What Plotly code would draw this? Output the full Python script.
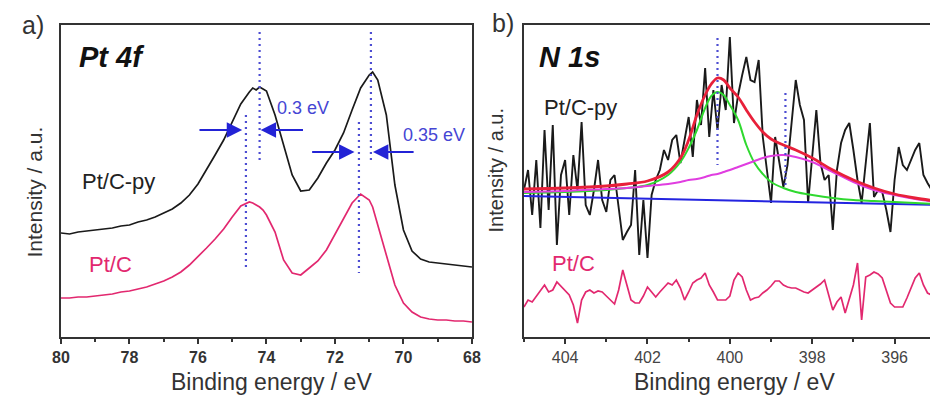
import plotly.graph_objects as go

# ---------------- Pt 4f region ----------------
pt_energy = [80.0, 79.75, 79.5, 79.25, 79.0, 78.75, 78.5, 78.25, 78.0, 77.75,
             77.5, 77.25, 77.0, 76.75, 76.5, 76.25, 76.0, 75.75, 75.5, 75.25,
             75.0, 74.75, 74.5, 74.4, 74.3, 74.2, 74.1, 74.0, 73.75, 73.5,
             73.25, 73.0, 72.75, 72.5, 72.25, 72.0, 71.75, 71.5, 71.25, 71.0,
             70.9, 70.75, 70.5, 70.25, 70.0, 69.75, 69.5, 69.25, 69.0, 68.75,
             68.5, 68.25, 68.0]
pt_cpy = [104, 103, 105, 106, 107, 108, 109, 111, 112, 115,
          117, 120, 124, 128, 134, 142, 153, 167, 182, 197,
          215, 233, 245, 249, 247, 250, 248, 246, 222, 192,
          162, 146, 147, 159, 174, 187, 204, 227, 249, 262,
          265, 257, 222, 152, 107, 86, 78, 75, 74, 73,
          72, 71, 70]
pt_c = [39, 39, 40, 40, 41, 42, 43, 45, 46, 48,
        50, 53, 56, 60, 65, 72, 80, 89, 98, 108,
        120, 131, 135, 134, 132, 130, 127, 122, 105, 77,
        64, 62, 69, 76, 87, 103, 119, 134, 143, 137,
        130, 112, 82, 52, 34, 25, 20, 18, 17, 17,
        16, 16, 15]

pt_ticks = [80, 78, 76, 74, 72, 70, 68]

# peak positions (eV) and the intensity span of each marker line
pt_peak_cpy = [74.2, 70.95]
pt_peak_cpy_span = [[305, 176], [305, 174]]
pt_peak_c = [74.6, 71.3]
pt_peak_c_span = [[222, 70], [215, 64]]

# shift arrows: (tail eV, head eV, intensity)
shift_arrows = [(76.0, 74.71, 207), (72.89, 74.17, 207),
                (72.71, 71.43, 185), (69.66, 70.89, 185)]
shift_labels = ["0.3 eV", "0.35 eV"]

# ---------------- N 1s region ----------------
n_energy = [round(405.0 - 0.1 * i, 1) for i in range(100)]
n_cpy = [147, 167, 122, 177, 109, 207, 127, 212, 92, 162,
         177, 122, 182, 147, 215, 132, 122, 147, 177, 137,
         125, 157, 162, 132, 97, 105, 112, 167, 82, 137,
         79, 142, 157, 167, 187, 177, 197, 202, 174, 197,
         220, 180, 237, 212, 269, 200, 247, 207, 252, 227,
         300, 214, 242, 262, 280, 257, 255, 277, 200, 167,
         134, 200, 177, 150, 172, 217, 257, 232, 217, 134,
         177, 227, 174, 157, 162, 107, 167, 194, 207, 214,
         187, 157, 134, 177, 214, 140, 147, 145, 127, 105,
         157, 190, 172, 167, 177, 187, 194, 162, 154, 147]
n_c = [30, 37, 35, 41, 47, 52, 45, 47, 55, 51,
       47, 42, 32, 14, 37, 45, 47, 44, 46, 45,
       41, 37, 33, 47, 67, 52, 37, 34, 34, 41,
       50, 45, 40, 45, 49, 54, 52, 57, 49, 37,
       45, 54, 57, 59, 64, 52, 45, 37, 37, 37,
       41, 57, 64, 60, 47, 37, 39, 40, 44, 47,
       51, 56, 56, 52, 50, 49, 49, 47, 45, 44,
       47, 50, 53, 57, 42, 27, 35, 40, 24, 37,
       52, 74, 17, 60, 62, 65, 63, 59, 47, 34,
       30, 30, 30, 39, 49, 59, 64, 52, 44, 42]

fit_energy = [405, 404, 403, 402.5, 402, 401.5, 401.2, 401.0, 400.8, 400.6,
              400.45, 400.3, 400.15, 400.0, 399.8, 399.6, 399.4, 399.2, 399.0, 398.7,
              398.4, 398.0, 397.5, 397.0, 396.5, 396.0, 395.5, 395.0]
fit_pyridinic = [144, 145, 147, 149, 152, 162, 175, 189, 207, 229,
                 241, 245, 242, 232, 217, 192, 174, 163, 155, 149,
                 145, 142, 139, 137, 136, 135, 134, 133]
fit_second = [145, 146, 148, 149, 151, 153, 155, 157, 158, 160,
              162, 163, 165, 167, 170, 173, 176, 179, 181, 182,
              180, 175, 165, 155, 147, 142, 138, 135]
fit_envelope = [148, 149, 151, 153, 156, 165, 179, 197, 222, 242,
                253, 259, 257, 249, 240, 227, 215, 205, 198, 192,
                187, 179, 167, 157, 149, 143, 139, 136]
bg_energy = [405, 395]
bg_level = [141, 132]

n_ticks = [404, 402, 400, 398, 396]
n_peaks = [400.3, 398.65]
n_peak_span = [[299, 172], [244, 150]]

# ---------------- styling ----------------
FONT = "Liberation Sans, Arial, sans-serif"
BLACK = "#1a1a1a"
PINK = "#e2286f"
DOT_BLUE = "#4d4dd2"
ARROW_BLUE = "#2323d6"
TXT_BLUE = "#4545d4"
W, H = 939, 396


def px(x):
    return x / W


def py(y):
    return 1 - y / H


fig = go.Figure()

# Pt 4f spectra
fig.add_trace(go.Scatter(x=pt_energy, y=pt_cpy, mode="lines",
                         line=dict(color=BLACK, width=1.7), xaxis="x", yaxis="y"))
fig.add_trace(go.Scatter(x=pt_energy, y=pt_c, mode="lines",
                         line=dict(color=PINK, width=1.7), xaxis="x", yaxis="y"))

for e, span in zip(pt_peak_cpy + pt_peak_c, pt_peak_cpy_span + pt_peak_c_span):
    fig.add_trace(go.Scatter(x=[e, e], y=span, mode="lines",
                             line=dict(color=DOT_BLUE, width=2.2, dash="2px,4px"),
                             xaxis="x", yaxis="y"))

# N 1s spectra and fit components
fig.add_trace(go.Scatter(x=n_energy, y=n_cpy, mode="lines",
                         line=dict(color=BLACK, width=1.9), xaxis="x2", yaxis="y2"))
fig.add_trace(go.Scatter(x=n_energy, y=n_c, mode="lines",
                         line=dict(color=PINK, width=1.7), xaxis="x2", yaxis="y2"))
fig.add_trace(go.Scatter(x=bg_energy, y=bg_level, mode="lines",
                         line=dict(color="#2424e0", width=2), xaxis="x2", yaxis="y2"))
fig.add_trace(go.Scatter(x=fit_energy, y=fit_pyridinic, mode="lines", line_shape="spline",
                         line=dict(color="#2fd92f", width=2), xaxis="x2", yaxis="y2"))
fig.add_trace(go.Scatter(x=fit_energy, y=fit_second, mode="lines", line_shape="spline",
                         line=dict(color="#e03de0", width=2), xaxis="x2", yaxis="y2"))
fig.add_trace(go.Scatter(x=fit_energy, y=fit_envelope, mode="lines", line_shape="spline",
                         line=dict(color="#e8203a", width=2.8), xaxis="x2", yaxis="y2"))

for e, span in zip(n_peaks, n_peak_span):
    fig.add_trace(go.Scatter(x=[e, e], y=span, mode="lines",
                             line=dict(color=DOT_BLUE, width=2.2, dash="2px,4px"),
                             xaxis="x2", yaxis="y2"))

# shift arrows
annotations = []
for tail, head, level in shift_arrows:
    annotations.append(dict(x=head, y=level, ax=tail, ay=level, xref="x", yref="y",
                            axref="x", ayref="y", text="", showarrow=True,
                            arrowhead=2, arrowsize=1.4, arrowwidth=2.2,
                            arrowcolor=ARROW_BLUE, standoff=0))


def label(text, x, y, size, color="#222", xanchor="center", yanchor="middle", angle=0):
    annotations.append(dict(text=text, x=px(x), y=py(y), xref="paper", yref="paper",
                            showarrow=False, xanchor=xanchor, yanchor=yanchor,
                            textangle=angle,
                            font=dict(family=FONT, size=size, color=color)))


label(shift_labels[0], 300, 108, 18, TXT_BLUE)
label(shift_labels[1], 433, 135, 18, TXT_BLUE)

label("a)", 24, 25, 25, "#333")
label("b)", 504, 23, 25, "#333")
label("<b><i>Pt 4f</i></b>", 105, 57, 29, "#111")
label("<b><i>N 1s</i></b>", 571, 57, 29, "#111")
label("Pt/C-py", 112, 182, 22, "#222")
label("Pt/C", 103, 264, 22, PINK)
label("Pt/C-py", 583, 107, 22, "#222")
label("Pt/C", 576, 263, 22, PINK)
label("Binding energy / eV", 268, 382, 23, "#333")
label("Binding energy / eV", 740, 382, 23, "#333")
label("Intensity / a.u.", 25, 192, 21, "#333", angle=-90)
label("Intensity / a.u.", 497, 170, 20, "#333", angle=-90)

axis_common = dict(showgrid=False, zeroline=False, showline=True, linecolor="#333",
                   linewidth=2)

fig.update_layout(
    width=W, height=H,
    margin=dict(l=0, r=0, t=0, b=0),
    paper_bgcolor="white", plot_bgcolor="white",
    showlegend=False,
    annotations=annotations,
    xaxis=dict(domain=[px(53), px(472)], range=[80, 68], anchor="y",
               tickvals=pt_ticks, ticks="outside", ticklen=5, tickwidth=2,
               tickcolor="#333", mirror=True,
               minor=dict(dtick=1, ticks="outside", ticklen=3, tickwidth=1.5,
                          tickcolor="#333"),
               tickfont=dict(family=FONT, size=16, color="#333", weight="bold"),
               **axis_common),
    yaxis=dict(domain=[py(337), py(25)], range=[0, 312], anchor="x",
               showticklabels=False, ticks="", mirror=True, **axis_common),
    xaxis2=dict(domain=[px(525), 1.0], range=[405, 395.14], anchor="y2",
                tickvals=n_ticks, ticks="outside", ticklen=5, tickwidth=2,
                tickcolor="#333", mirror=True,
                minor=dict(dtick=1, ticks="outside", ticklen=3, tickwidth=1.5,
                           tickcolor="#333"),
                tickfont=dict(family=FONT, size=16, color="#444"),
                **axis_common),
    yaxis2=dict(domain=[py(337), py(25)], range=[0, 312], anchor="x2",
                showticklabels=False, ticks="", mirror=False, **axis_common),
)

fig.write_html("out.html")
